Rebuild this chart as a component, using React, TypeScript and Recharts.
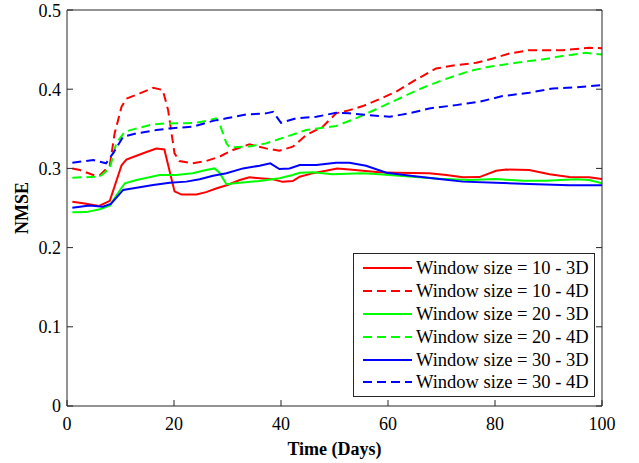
import React from 'react';
import { LineChart, Line, XAxis, YAxis, Legend } from 'recharts';

const xTicks = [0, 20, 40, 60, 80, 100];
const yTicks = [0, 0.1, 0.2, 0.3, 0.4, 0.5];

// [day, NMSE]
const w10_3D: [number, number][] = [
  [1, 0.258], [3, 0.256], [6, 0.2525], [8, 0.259], [10.2, 0.304], [11.1, 0.311], [13, 0.316], [15, 0.321],
  [16.7, 0.325], [18.2, 0.324], [20.1, 0.271], [21.4, 0.267], [24.2, 0.267], [26, 0.27], [28, 0.275],
  [30, 0.279], [32.3, 0.2854], [34.1, 0.2888], [36, 0.2876], [38.5, 0.2862], [40.3, 0.283], [42.2, 0.284],
  [43.5, 0.2895], [46, 0.294], [48.4, 0.297], [50.5, 0.3], [52.8, 0.2985], [55.3, 0.297], [58.4, 0.295],
  [61.5, 0.2945], [67.7, 0.2938], [70.9, 0.2917], [74, 0.2888], [77.1, 0.289], [80.2, 0.297], [82.1, 0.2985],
  [86.4, 0.298], [90.2, 0.2925], [93.9, 0.289], [97.6, 0.2888], [100, 0.2866],
];

const w10_4D: [number, number][] = [
  [1, 0.3], [2.4, 0.298], [4.9, 0.2917], [6.1, 0.291], [8, 0.304], [8.9, 0.344], [10.2, 0.378], [11.1, 0.388],
  [13.6, 0.3947], [16.1, 0.4018], [17.9, 0.399], [18.9, 0.3736], [20.1, 0.319], [21, 0.3093], [23.5, 0.3064],
  [26, 0.3093], [28.5, 0.3148], [31, 0.3232], [34.1, 0.3304], [37.2, 0.3253], [39.7, 0.3223], [42.2, 0.3274],
  [44.7, 0.342], [47.8, 0.3526], [50.3, 0.3695], [52.8, 0.3736], [55.3, 0.3787], [58.4, 0.3875], [61.5, 0.3967],
  [65.3, 0.4123], [69, 0.4262], [72.7, 0.4304], [76.5, 0.4333], [79.6, 0.4388], [82.7, 0.4451], [86.4, 0.4493],
  [92.6, 0.4493], [97.6, 0.4522], [100, 0.4518],
];

const w20_3D: [number, number][] = [
  [1, 0.2446], [3.6, 0.2448], [6.1, 0.2484], [8, 0.253], [9.5, 0.2686], [10.8, 0.2812], [13, 0.2854],
  [15.4, 0.2888], [17.3, 0.2917], [20.4, 0.2917], [23.5, 0.2938], [26, 0.298], [27.6, 0.3], [28.5, 0.2946],
  [29.8, 0.28], [32.3, 0.282], [36, 0.2842], [39.7, 0.2876], [42.2, 0.2917], [43.5, 0.2946], [45.9, 0.295],
  [49.7, 0.2925], [55.3, 0.2938], [58.4, 0.2925], [64.6, 0.2895], [69.6, 0.287], [75.2, 0.2854], [80.2, 0.2866],
  [85.2, 0.2845], [89.5, 0.2845], [95.1, 0.2862], [97.6, 0.2854], [100, 0.2812],
];

const w20_4D: [number, number][] = [
  [1, 0.2883], [6.1, 0.2895], [8, 0.3], [9.2, 0.3316], [10.8, 0.3463], [13, 0.3505], [16.1, 0.3556],
  [18.6, 0.3568], [23.5, 0.3572], [26, 0.3598], [27.9, 0.3632], [28.5, 0.3568], [29.8, 0.3316], [30.4, 0.3266],
  [34.1, 0.3278], [37.2, 0.3316], [41, 0.34], [44.7, 0.3484], [47.8, 0.3513], [50.3, 0.3535], [54, 0.3632],
  [58.4, 0.3766], [62.8, 0.3904], [66.5, 0.4018], [70.2, 0.4115], [75.2, 0.4228], [78.9, 0.4283], [83.9, 0.4333],
  [88.8, 0.4376], [92.6, 0.4418], [96.9, 0.4459], [100, 0.4439],
];

const w30_3D: [number, number][] = [
  [1, 0.2504], [4.2, 0.253], [6.7, 0.2517], [8.2, 0.2551], [10.5, 0.2728], [13, 0.2757], [16.1, 0.279],
  [19.2, 0.282], [22.3, 0.2833], [24.8, 0.2862], [27.3, 0.2908], [29.8, 0.2938], [32.9, 0.3], [36, 0.3034],
  [38, 0.3064], [39.7, 0.2992], [41.6, 0.3], [43.5, 0.3043], [46.6, 0.3043], [50.3, 0.3072], [52.8, 0.3072],
  [55.9, 0.3034], [59.7, 0.2946], [64.6, 0.2904], [69.6, 0.2866], [74, 0.2833], [80.2, 0.282], [86.4, 0.2803],
  [93.9, 0.2787], [100, 0.2787],
];

const w30_4D: [number, number][] = [
  [1, 0.3072], [4.9, 0.3106], [7.3, 0.3064], [8.6, 0.319], [10.5, 0.34], [13, 0.3442], [16.7, 0.3484],
  [19.2, 0.3505], [23.5, 0.3526], [27.3, 0.36], [29.8, 0.3632], [33.5, 0.3682], [37.2, 0.3695], [38.5, 0.3715],
  [40, 0.3576], [42.8, 0.3632], [46.6, 0.3652], [50.3, 0.3702], [52.8, 0.3695], [56.5, 0.3673], [60.3, 0.3652],
  [64, 0.3695], [67.7, 0.3757], [72.7, 0.3799], [77.1, 0.3841], [81.4, 0.3913], [86.4, 0.3955], [90.8, 0.401],
  [95.1, 0.4023], [100, 0.4052],
];

const seriesNames = [
  'Window size = 10 - 3D',
  'Window size = 10 - 4D',
  'Window size = 20 - 3D',
  'Window size = 20 - 4D',
  'Window size = 30 - 3D',
  'Window size = 30 - 4D',
];
const seriesData = [w10_3D, w10_4D, w20_3D, w20_4D, w30_3D, w30_4D];

const seriesStyle = [
  { color: '#ff0000', dashed: false },
  { color: '#ff0000', dashed: true },
  { color: '#00ff00', dashed: false },
  { color: '#00ff00', dashed: true },
  { color: '#0000ff', dashed: false },
  { color: '#0000ff', dashed: true },
];

const FONT = '"Liberation Serif", "Times New Roman", serif';
const AXIS = '#262626';
const DASH = '9 5';

const toRows = (pairs: [number, number][]) => pairs.map(([d, v]) => ({ d, v }));

const LegendBox = () => (
  <div
    style={{
      position: 'relative',
      width: 242,
      height: 144,
      boxSizing: 'border-box',
      border: `1px solid ${AXIS}`,
      background: '#fff',
      fontFamily: FONT,
      fontSize: 18.5,
      color: '#000',
    }}
  >
    {seriesNames.map((name, i) => (
      <div
        key={name}
        style={{
          position: 'absolute',
          left: 0,
          top: 3 + i * 22.8,
          height: 22.8,
          display: 'flex',
          alignItems: 'center',
          whiteSpace: 'nowrap',
        }}
      >
        <svg width={62} height={22} style={{ display: 'block' }}>
          <line
            x1={9}
            x2={58}
            y1={11}
            y2={11}
            stroke={seriesStyle[i].color}
            strokeWidth={2}
            strokeDasharray={seriesStyle[i].dashed ? DASH : undefined}
          />
        </svg>
        <span style={{ lineHeight: '22px' }}>{name}</span>
      </div>
    ))}
  </div>
);

const XLabel = (props: any) => {
  const vb = props.viewBox || {};
  return (
    <text
      x={vb.x + vb.width / 2}
      y={vb.y + vb.height - 8}
      textAnchor="middle"
      fontFamily={FONT}
      fontWeight="bold"
      fontSize={18}
      fill="#000"
    >
      Time (Days)
    </text>
  );
};

const YLabel = (props: any) => {
  const vb = props.viewBox || {};
  const cx = 22;
  const cy = vb.y + vb.height / 2;
  return (
    <text
      x={cx}
      y={cy}
      transform={`rotate(-90, ${cx}, ${cy})`}
      textAnchor="middle"
      dominantBaseline="central"
      fontFamily={FONT}
      fontWeight="bold"
      fontSize={18}
      fill="#000"
    >
      NMSE
    </text>
  );
};

export default function App() {
  const tickStyle = { fontFamily: FONT, fontSize: 18, fill: '#000' };
  return (
    <div style={{ position: 'absolute', left: 0, top: 0, width: 639, height: 463, background: '#fff' }}>
      <LineChart width={639} height={463} margin={{ top: 9, right: 36, bottom: 0, left: 0 }}>
        <XAxis
          xAxisId="b"
          type="number"
          dataKey="d"
          domain={[0, 100]}
          ticks={xTicks}
          allowDataOverflow
          height={57}
          tickSize={-6}
          tickMargin={17}
          tick={tickStyle}
          axisLine={{ stroke: AXIS }}
          tickLine={{ stroke: AXIS }}
          label={<XLabel />}
        />
        <XAxis
          xAxisId="t"
          orientation="top"
          type="number"
          domain={[0, 100]}
          ticks={xTicks}
          allowDataOverflow
          height={1}
          tickSize={-6}
          tick={() => <g />}
          axisLine={{ stroke: AXIS }}
          tickLine={{ stroke: AXIS }}
        />
        <YAxis
          yAxisId="l"
          type="number"
          domain={[0, 0.5]}
          ticks={yTicks}
          allowDataOverflow
          width={67}
          tickSize={-6}
          tickMargin={12}
          tick={tickStyle}
          axisLine={{ stroke: AXIS }}
          tickLine={{ stroke: AXIS }}
          label={<YLabel />}
        />
        <YAxis
          yAxisId="r"
          orientation="right"
          type="number"
          domain={[0, 0.5]}
          ticks={yTicks}
          allowDataOverflow
          width={1}
          tickSize={-6}
          tick={() => <g />}
          axisLine={{ stroke: AXIS }}
          tickLine={{ stroke: AXIS }}
        />
        {seriesData.map((pairs, i) => (
          <Line
            key={seriesNames[i]}
            xAxisId="b"
            yAxisId="l"
            data={toRows(pairs)}
            dataKey="v"
            name={seriesNames[i]}
            type="linear"
            stroke={seriesStyle[i].color}
            strokeWidth={2}
            strokeDasharray={seriesStyle[i].dashed ? DASH : undefined}
            dot={false}
            activeDot={false}
            isAnimationActive={false}
          />
        ))}
        <Legend
          layout="vertical"
          align="center"
          verticalAlign="middle"
          content={() => <LegendBox />}
          wrapperStyle={{ position: 'absolute', left: 353, top: 253, width: 242, height: 144, margin: 0 }}
        />
      </LineChart>
    </div>
  );
}
